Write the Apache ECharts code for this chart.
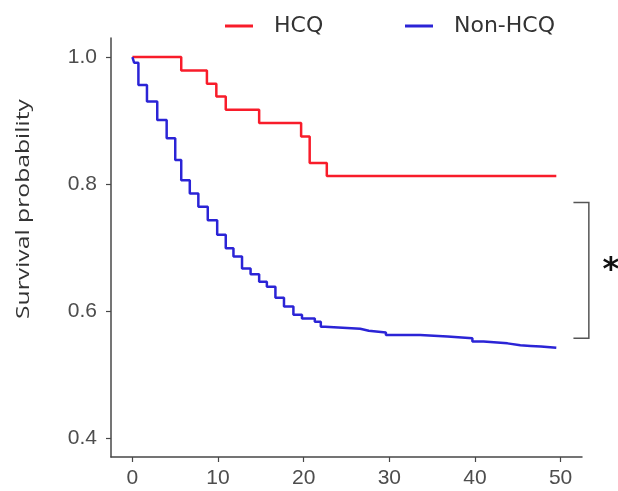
<!DOCTYPE html>
<html>
<head>
<meta charset="utf-8">
<script src="https://cdn.jsdelivr.net/npm/echarts@6/dist/echarts.min.js"></script>
<style>
  html, body { margin: 0; padding: 0; background: #fff; }
  #chart { width: 618px; height: 491px; }
</style>
</head>
<body>
<div id="chart"></div>
<script>
// Kaplan-Meier steps (time, survival)
const hcqTime = [0, 5.7, 8.7, 9.8, 10.9, 14.8, 19.7, 20.7, 22.7, 49.5]
const hcqSurv = [1.0, 0.979, 0.958, 0.938, 0.917, 0.896, 0.875, 0.833, 0.8125, 0.8125]

const nonTime = [0, 0.2, 0.7, 1.7, 2.9, 4.0, 5.0, 5.7, 6.7, 7.7, 8.8, 9.9, 10.9, 11.8, 12.8,
  13.8, 14.8, 15.7, 16.7, 17.7, 18.8, 19.8, 21.3, 22.0, 22.5, 26.6, 27.6, 29.6, 33.6,
  36.8, 39.7, 41.0, 43.8, 45.3, 46.5, 47.7, 49.5]
const nonSurv = [1.0, 0.991, 0.956, 0.930, 0.901, 0.872, 0.838, 0.806, 0.785, 0.764, 0.743, 0.720, 0.699, 0.686, 0.667,
  0.658, 0.646, 0.638, 0.621, 0.607, 0.594, 0.588, 0.583, 0.575, 0.572, 0.569, 0.566, 0.562, 0.560,
  0.557, 0.552, 0.549, 0.546, 0.545, 0.544, 0.542, 0.541]

const xTicks = [0, 10, 20, 30, 40, 50]
const yTicks = [0.4, 0.6, 0.8, 1.0]

// significance bracket between the two curves
const bracketTop = 0.771
const bracketBottom = 0.557

const RED = '#f81c2a'
const BLUE = '#2b24d6'
const AXIS_COLOR = '#474747'
const LABEL_FONT = "'Liberation Sans', Arial, sans-serif"

const zip = (a, b) => a.map((v, i) => [v, b[i]])

// one legend block per entry so each sits where the reference has it
const legendItem = (name, left) => ({
  top: 10,
  left,
  icon: 'rect',
  itemWidth: 28,
  itemHeight: 3,
  textStyle: {
    color: '#333',
    fontFamily: "'DejaVu Sans', sans-serif",
    fontSize: 22,
    padding: [0, 0, 0, 16],
  },
  data: [name],
})

const chart = echarts.init(document.getElementById('chart'), null, { renderer: 'canvas' })

chart.setOption({
  animation: false,
  backgroundColor: '#fff',
  grid: { left: 111, right: 36, top: 38, bottom: 34 },
  legend: [legendItem('HCQ', 220), legendItem('Non-HCQ', 400)],
  xAxis: {
    type: 'value',
    min: -2.5,
    max: 52.5,
    splitLine: { show: false },
    axisLine: { onZero: false, lineStyle: { color: AXIS_COLOR, width: 1.5 } },
    axisTick: { show: true, length: 5, lineStyle: { color: AXIS_COLOR, width: 1.2 }, customValues: xTicks },
    axisLabel: { color: '#4d4d4d', fontFamily: LABEL_FONT, fontSize: 21, margin: 11, customValues: xTicks },
  },
  yAxis: {
    type: 'value',
    min: 0.37,
    max: 1.03,
    splitLine: { show: false },
    axisLine: { show: true, onZero: false, lineStyle: { color: AXIS_COLOR, width: 1.5 } },
    axisTick: { show: true, length: 5, lineStyle: { color: AXIS_COLOR, width: 1.2 }, customValues: yTicks },
    axisLabel: {
      color: '#4d4d4d', fontFamily: LABEL_FONT, fontSize: 21, margin: 14,
      customValues: yTicks, formatter: v => v.toFixed(1),
    },
  },
  series: [
    {
      name: 'HCQ',
      type: 'line',
      step: 'end',
      showSymbol: false,
      symbol: 'none',
      color: RED,
      lineStyle: { color: RED, width: 2.5 },
      data: zip(hcqTime, hcqSurv),
    },
    {
      name: 'Non-HCQ',
      type: 'line',
      step: 'end',
      showSymbol: false,
      symbol: 'none',
      color: BLUE,
      lineStyle: { color: BLUE, width: 2.5 },
      data: zip(nonTime, nonSurv),
    },
  ],
})

// bracket + asterisk + rotated axis title, placed from the axis scales
const pTop = chart.convertToPixel({ xAxisIndex: 0, yAxisIndex: 0 }, [53.3, bracketTop])
const pBot = chart.convertToPixel({ xAxisIndex: 0, yAxisIndex: 0 }, [53.3, bracketBottom])
const tickLeft = chart.convertToPixel({ xAxisIndex: 0 }, 51.5)
const mid = (pTop[1] + pBot[1]) / 2

chart.setOption({
  graphic: [
    {
      type: 'polyline',
      shape: { points: [[tickLeft, pTop[1]], [pTop[0], pTop[1]], [pBot[0], pBot[1]], [tickLeft, pBot[1]]] },
      style: { stroke: '#555', lineWidth: 1.5, fill: null },
    },
    {
      type: 'text',
      x: pTop[0] + 22,
      y: mid,
      style: {
        text: '*',
        fill: '#111',
        font: "bold 32px 'DejaVu Sans', sans-serif",
        textAlign: 'center',
        textVerticalAlign: 'middle',
      },
    },
    {
      type: 'text',
      x: 24,
      y: 209,
      rotation: Math.PI / 2,
      scaleX: 1.3,
      style: {
        text: 'Survival probability',
        fill: '#333',
        font: "19px 'Open Sans', sans-serif",
        textAlign: 'center',
        textVerticalAlign: 'middle',
      },
    },
  ],
})
</script>
</body>
</html>
